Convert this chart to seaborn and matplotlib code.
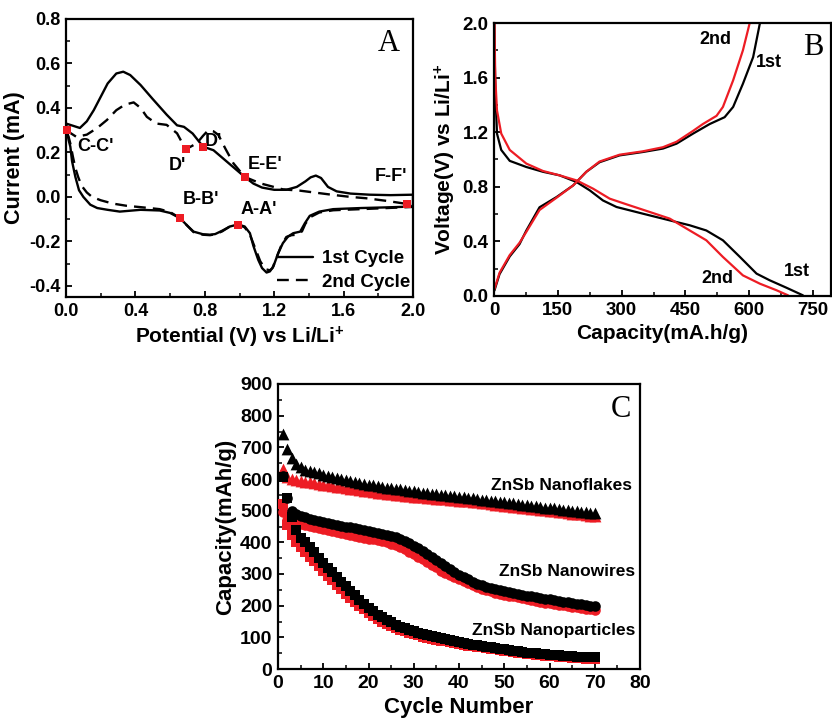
import matplotlib
matplotlib.use("Agg")
import matplotlib.pyplot as plt
import seaborn as sns
import numpy as np
from matplotlib.ticker import MultipleLocator

# ---------------- Panel A: cyclic voltammetry ----------------
cv1_up_x = [0.0, 0.04, 0.08, 0.12, 0.16, 0.20, 0.24, 0.29, 0.33, 0.37, 0.43, 0.50, 0.58, 0.64, 0.68, 0.73,
            0.79, 0.85, 0.91, 0.97, 1.03, 1.08, 1.13, 1.20, 1.27, 1.33, 1.38, 1.41, 1.44, 1.47, 1.51, 1.56,
            1.64, 1.75, 1.87, 2.0]
cv1_up_y = [0.33, 0.32, 0.31, 0.34, 0.39, 0.45, 0.51, 0.555, 0.563, 0.548, 0.503, 0.44, 0.37, 0.322, 0.315, 0.285,
            0.226, 0.21, 0.17, 0.13, 0.09, 0.06, 0.042, 0.032, 0.032, 0.045, 0.07, 0.088, 0.096, 0.085, 0.045, 0.025,
            0.015, 0.01, 0.008, 0.01]
cv1_dn_x = [2.0, 1.85, 1.7, 1.6, 1.54, 1.46, 1.405, 1.377, 1.35, 1.31, 1.28, 1.25, 1.223, 1.195, 1.175,
            1.156, 1.13, 1.108, 1.08, 1.06, 1.03, 1.0, 0.97, 0.945, 0.9, 0.86, 0.83, 0.79, 0.735, 0.70,
            0.658, 0.60, 0.54, 0.43, 0.37, 0.31, 0.24, 0.18, 0.14, 0.10, 0.075, 0.054, 0.035, 0.025, 0.015,
            0.008, 0.0]
cv1_dn_y = [-0.043, -0.047, -0.05, -0.053, -0.055, -0.066, -0.085, -0.118, -0.156, -0.163, -0.178, -0.208, -0.253,
            -0.313, -0.335, -0.34, -0.32, -0.283, -0.22, -0.163, -0.133, -0.126, -0.128, -0.133, -0.152, -0.167,
            -0.17, -0.168, -0.156, -0.13, -0.096, -0.072, -0.061, -0.058, -0.062, -0.066, -0.058, -0.05, -0.035,
            0.0, 0.03, 0.09, 0.16, 0.226, 0.256, 0.29, 0.33]

cv2_up_x = [0.0, 0.06, 0.12, 0.18, 0.236, 0.29, 0.34, 0.39, 0.43, 0.466, 0.52, 0.58, 0.64, 0.69, 0.754, 0.79,
            0.82, 0.85, 0.878, 0.92, 0.965, 1.03, 1.12, 1.25, 1.35, 1.45, 1.54, 1.64, 1.73, 1.85, 1.96, 2.0]
cv2_up_y = [0.30, 0.27, 0.28, 0.31, 0.346, 0.39, 0.415, 0.425, 0.40, 0.36, 0.33, 0.324, 0.286, 0.214, 0.241, 0.275,
            0.30, 0.295, 0.279, 0.215, 0.151, 0.09, 0.061, 0.034, 0.028, 0.018, 0.009, 0.0, -0.006, -0.018, -0.031,
            -0.036]
cv2_dn_x = [2.0, 1.85, 1.7, 1.6, 1.54, 1.46, 1.41, 1.38, 1.36, 1.33, 1.30, 1.27, 1.24, 1.21, 1.19,
            1.175, 1.15, 1.12, 1.09, 1.06, 1.03, 1.0, 0.97, 0.94, 0.9, 0.86, 0.83, 0.79, 0.735, 0.70,
            0.658, 0.60, 0.54, 0.43, 0.35, 0.27, 0.2, 0.15, 0.12, 0.09, 0.07, 0.054, 0.04, 0.025, 0.015, 0.0]
cv2_dn_y = [-0.045, -0.05, -0.055, -0.058, -0.06, -0.07, -0.09, -0.12, -0.155, -0.17, -0.172, -0.18, -0.22, -0.28,
            -0.32, -0.33, -0.325, -0.29, -0.23, -0.17, -0.137, -0.126, -0.128, -0.135, -0.155, -0.168, -0.172,
            -0.17, -0.158, -0.13, -0.096, -0.068, -0.055, -0.046, -0.04, -0.03, -0.015, 0.0, 0.02, 0.05, 0.09,
            0.13, 0.18, 0.24, 0.27, 0.30]

peak_x = [0.008, 0.69, 0.79, 1.03, 1.965, 0.658, 0.99]
peak_y = [0.30, 0.214, 0.226, 0.09, -0.031, -0.093, -0.126]
peak_labels = ["C-C'", "D'", "D'", "E-E'", "F-F'", "B-B'", "A-A'"]
peak_label_x = [0.17, 0.64, 0.85, 1.145, 1.875, 0.775, 1.11]
peak_label_y = [0.226, 0.14, 0.25, 0.145, 0.09, -0.013, -0.055]

# ---------------- Panel B: charge/discharge ----------------
ch1_x = [1, 13, 37, 60, 76, 107, 147, 186, 217, 248, 295, 350, 397, 429, 468, 507, 542, 562, 585, 609, 625]
ch1_y = [0.04, 0.16, 0.29, 0.38, 0.48, 0.65, 0.725, 0.81, 0.91, 0.98, 1.03, 1.055, 1.08, 1.116, 1.19, 1.26,
         1.31, 1.385, 1.555, 1.75, 2.0]
ch2_x = [1, 13, 37, 60, 76, 107, 147, 186, 217, 248, 295, 350, 397, 429, 468, 491, 523, 538, 562, 585, 601]
ch2_y = [0.05, 0.17, 0.30, 0.39, 0.47, 0.63, 0.72, 0.81, 0.91, 0.985, 1.035, 1.06, 1.09, 1.13, 1.21, 1.26,
         1.32, 1.385, 1.58, 1.8, 2.0]
dc1_x = [1, 2, 4, 7, 17, 37, 76, 115, 154, 194, 225, 256, 288, 350, 413, 460, 499, 538, 578, 617, 648, 687, 726]
dc1_y = [2.0, 1.7, 1.43, 1.19, 1.07, 0.99, 0.945, 0.91, 0.884, 0.835, 0.774, 0.70, 0.652, 0.603, 0.554, 0.518,
         0.48, 0.408, 0.286, 0.164, 0.115, 0.061, 0.005]
dc2_x = [1, 3, 7, 17, 37, 76, 115, 154, 194, 233, 272, 311, 350, 413, 460, 499, 538, 585, 625, 664, 691]
dc2_y = [2.0, 1.6, 1.36, 1.19, 1.07, 0.97, 0.916, 0.884, 0.847, 0.786, 0.713, 0.672, 0.632, 0.567, 0.48, 0.408,
         0.286, 0.151, 0.09, 0.042, 0.005]

# ---------------- Panel C: cycling ----------------
cycles = list(range(1, 71))
flakes_black = [742, 695, 665, 648, 637, 630, 625, 621, 618, 614, 610, 606, 603, 600, 597, 594, 591, 588, 585, 582,
                580, 578, 575, 573, 571, 569, 567, 565, 563, 561, 559, 557, 556, 554, 552, 551, 549, 547, 546, 544,
                542, 540, 539, 537, 535, 533, 531, 530, 528, 526, 524, 523, 521, 519, 517, 515, 514, 512, 510, 508,
                507, 505, 503, 502, 500, 499, 497, 495, 494, 492]
flakes_red = [632, 607, 600, 596, 593, 591, 589, 587, 584, 582, 580, 578, 576, 574, 572, 570, 568, 566, 563, 561,
              559, 557, 556, 554, 552, 551, 549, 547, 546, 544, 543, 542, 540, 539, 538, 537, 536, 535, 533, 532,
              531, 529, 528, 526, 524, 523, 521, 519, 518, 516, 514, 513, 511, 510, 508, 506, 505, 503, 502, 500,
              498, 496, 495, 493, 491, 489, 488, 486, 484, 482]
wires_black = [610, 540, 500, 490, 484, 479, 475, 471, 468, 465, 462, 459, 456, 453, 450, 447, 444, 441, 438, 435,
               432, 429, 426, 423, 420, 416, 411, 405, 398, 390, 382, 373, 364, 354, 344, 334, 324, 315, 306, 298,
               290, 283, 276, 270, 265, 260, 256, 252, 249, 246, 243, 240, 237, 234, 232, 229, 227, 225, 222, 220,
               218, 215, 213, 211, 208, 206, 204, 202, 200, 198]
wires_red = [495, 470, 465, 460, 457, 454, 451, 448, 445, 442, 439, 436, 433, 430, 427, 424, 421, 418, 415, 412,
             409, 406, 403, 400, 396, 391, 385, 378, 370, 362, 354, 346, 338, 329, 321, 311, 303, 296, 290, 284,
             277, 271, 265, 259, 254, 249, 245, 241, 238, 235, 232, 229, 226, 223, 220, 217, 214, 212, 210, 207,
             205, 203, 201, 199, 197, 195, 193, 191, 189, 187]
part_black = [605, 540, 480, 440, 415, 400, 384, 368, 352, 336, 320, 305, 290, 275, 261, 247, 233, 219, 206, 193,
              182, 172, 163, 155, 147, 140, 134, 128, 123, 119, 115, 111, 107, 104, 101, 97, 94, 91, 88, 85,
              82, 80, 77, 75, 72, 70, 68, 66, 64, 62, 60, 58, 56, 54, 52, 50, 49, 47, 46, 45,
              44, 43, 42, 41, 40, 39, 39, 38, 38, 37]
part_red = [520, 455, 422, 400, 385, 370, 355, 340, 325, 310, 295, 280, 266, 252, 238, 225, 212, 200, 188, 177,
            167, 158, 150, 143, 136, 130, 124, 119, 114, 110, 106, 102, 99, 96, 93, 90, 87, 84, 81, 79,
            76, 74, 72, 70, 68, 66, 64, 62, 60, 58, 56, 54, 52, 50, 48, 47, 45, 44, 42, 41,
            40, 39, 38, 37, 36, 35, 34, 33, 33, 32]

RED = "#ED1C24"

sns.set_theme(style="ticks")
plt.rcParams.update({
    "font.family": ["Liberation Sans", "DejaVu Sans"],
    "font.weight": "bold",
    "axes.labelweight": "bold",
    "text.color": "black",
    "axes.labelcolor": "black",
    "mathtext.fontset": "custom",
    "mathtext.rm": "Liberation Sans:bold",
    "mathtext.bf": "Liberation Sans:bold",
    "mathtext.it": "Liberation Sans:bold",
    "mathtext.default": "bf",
    "axes.linewidth": 1.6,
    "xtick.direction": "in",
    "ytick.direction": "in",
    "xtick.major.width": 1.3,
    "ytick.major.width": 1.3,
    "xtick.minor.width": 1.1,
    "ytick.minor.width": 1.1,
    "xtick.major.size": 4.5,
    "ytick.major.size": 4.5,
    "xtick.minor.size": 2.8,
    "ytick.minor.size": 2.8,
    "axes.edgecolor": "black",
    "xtick.color": "black",
    "ytick.color": "black",
    "xtick.labelcolor": "black",
    "ytick.labelcolor": "black",
})

W, H = 832, 723
fig = plt.figure(figsize=(W / 100, H / 100), dpi=100)


def frac(l, r, t, b):
    return [l / W, 1 - b / H, (r - l) / W, (b - t) / H]


def style_ticks(ax, size):
    for lab in ax.get_xticklabels() + ax.get_yticklabels():
        lab.set_fontweight("bold")
        lab.set_fontsize(size)
        lab.set_color("black")
    ax.tick_params(axis="both", which="major", pad=4)


SERIF = ["Liberation Serif", "DejaVu Serif"]

# ---- Panel A ----
axA = fig.add_axes(frac(66, 413, 19, 297))
sns.lineplot(x=cv1_up_x + cv1_dn_x, y=cv1_up_y + cv1_dn_y, sort=False, estimator=None,
             color="black", lw=1.7, ax=axA, label="1st Cycle")
sns.lineplot(x=cv2_up_x + cv2_dn_x, y=cv2_up_y + cv2_dn_y, sort=False, estimator=None,
             color="black", lw=1.7, linestyle=(0, (5, 3)), ax=axA, label="2nd Cycle")
sns.scatterplot(x=peak_x, y=peak_y, marker="s", color=RED, s=40, linewidth=0, ax=axA, zorder=5, clip_on=False)
for t, lx, ly in zip(peak_labels, peak_label_x, peak_label_y):
    axA.text(lx, ly, t, ha="center", va="center", fontsize=13, fontweight="bold", color="black")
axA.text(1.86, 0.688, "A", ha="center", va="center", fontsize=22, family=SERIF, fontweight="normal",
         color="black")
axA.set_xlim(0, 2.0)
axA.set_ylim(-0.45, 0.8)
axA.xaxis.set_minor_locator(MultipleLocator(0.2))
axA.yaxis.set_minor_locator(MultipleLocator(0.1))
axA.set_xticks(np.arange(0, 2.01, 0.4))
axA.set_xticklabels(["0.0", "0.4", "0.8", "1.2", "1.6", "2.0"])
axA.set_yticks(np.arange(-0.4, 0.81, 0.2))
axA.set_yticklabels(["-0.4", "-0.2", "0.0", "0.2", "0.4", "0.6", "0.8"])
style_ticks(axA, 13)
axA.set_xlabel("Potential (V) vs Li/Li$^{+}$", fontsize=15, fontweight="bold", labelpad=4)
axA.set_ylabel("Current (mA)", fontsize=15.5, fontweight="bold", labelpad=3)
leg = axA.legend(loc="lower right", bbox_to_anchor=(1.03, -0.025), frameon=False,
                 handlelength=1.9, handletextpad=0.5, labelspacing=0.35, borderaxespad=0.3,
                 prop={"weight": "bold", "size": 13.5})
for t in leg.get_texts():
    t.set_color("black")

# ---- Panel B ----
axB = fig.add_axes(frac(494, 831, 23, 296))
sns.lineplot(x=ch1_x, y=ch1_y, sort=False, estimator=None, color="black", lw=1.6, ax=axB)
sns.lineplot(x=dc1_x, y=dc1_y, sort=False, estimator=None, color="black", lw=1.6, ax=axB)
sns.lineplot(x=ch2_x, y=ch2_y, sort=False, estimator=None, color=RED, lw=1.6, ax=axB)
sns.lineplot(x=dc2_x, y=dc2_y, sort=False, estimator=None, color=RED, lw=1.6, ax=axB)
axB.text(520, 1.88, "2nd", ha="center", va="center", fontsize=13, fontweight="bold", color="black")
axB.text(645, 1.71, "1st", ha="center", va="center", fontsize=13, fontweight="bold", color="black")
axB.text(712, 0.176, "1st", ha="center", va="center", fontsize=13, fontweight="bold", color="black")
axB.text(526, 0.127, "2nd", ha="center", va="center", fontsize=13, fontweight="bold", color="black")
axB.text(750, 1.82, "B", ha="center", va="center", fontsize=22, family=SERIF, fontweight="normal",
         color="black")
axB.set_xlim(0, 792)
axB.set_ylim(0, 2.0)
axB.set_xticks([0, 150, 300, 450, 600, 750])
axB.xaxis.set_minor_locator(MultipleLocator(75))
axB.set_yticks([0.0, 0.4, 0.8, 1.2, 1.6, 2.0])
axB.set_yticklabels(["0.0", "0.4", "0.8", "1.2", "1.6", "2.0"])
axB.yaxis.set_minor_locator(MultipleLocator(0.2))
style_ticks(axB, 13.5)
axB.set_xlabel("Capacity(mA.h/g)", fontsize=15, fontweight="bold", labelpad=4)
axB.set_ylabel("Voltage(V) vs Li/Li$^{+}$", fontsize=15, fontweight="bold", labelpad=3)

# ---- Panel C ----
axC = fig.add_axes(frac(278, 640, 384, 669))
sns.scatterplot(x=cycles, y=flakes_red, marker="^", color=RED, s=72, linewidth=0, ax=axC, zorder=3)
sns.scatterplot(x=cycles, y=flakes_black, marker="^", color="black", s=72, linewidth=0, ax=axC, zorder=4)
sns.scatterplot(x=cycles, y=wires_red, marker="o", color=RED, s=58, linewidth=0, ax=axC, zorder=3)
sns.scatterplot(x=cycles, y=wires_black, marker="o", color="black", s=58, linewidth=0, ax=axC, zorder=4)
sns.scatterplot(x=cycles, y=part_red, marker="s", color=RED, s=48, linewidth=0, ax=axC, zorder=3)
sns.scatterplot(x=cycles, y=part_black, marker="s", color="black", s=48, linewidth=0, ax=axC, zorder=4)
axC.text(62.7, 580, "ZnSb Nanoflakes", ha="center", va="center", fontsize=12.5, fontweight="bold", color="black")
axC.text(63.9, 308, "ZnSb Nanowires", ha="center", va="center", fontsize=12.5, fontweight="bold", color="black")
axC.text(61.0, 123, "ZnSb Nanoparticles", ha="center", va="center", fontsize=12.5, fontweight="bold",
         color="black")
axC.text(75.8, 818, "C", ha="center", va="center", fontsize=22, family=SERIF, fontweight="normal", color="black")
axC.set_xlim(0, 80)
axC.set_ylim(0, 900)
axC.xaxis.set_major_locator(MultipleLocator(10))
axC.xaxis.set_minor_locator(MultipleLocator(5))
axC.yaxis.set_major_locator(MultipleLocator(100))
axC.yaxis.set_minor_locator(MultipleLocator(50))
style_ticks(axC, 14)
axC.set_xlabel("Cycle Number", fontsize=16, fontweight="bold", labelpad=4)
axC.set_ylabel("Capacity(mAh/g)", fontsize=16, fontweight="bold", labelpad=3)

for ax in (axA, axB, axC):
    ax.tick_params(which="both", top=False, right=False)
    for sp in ax.spines.values():
        sp.set_visible(True)
        sp.set_linewidth(1.6)
        sp.set_color("black")

fig.savefig("out.png", dpi=100)
